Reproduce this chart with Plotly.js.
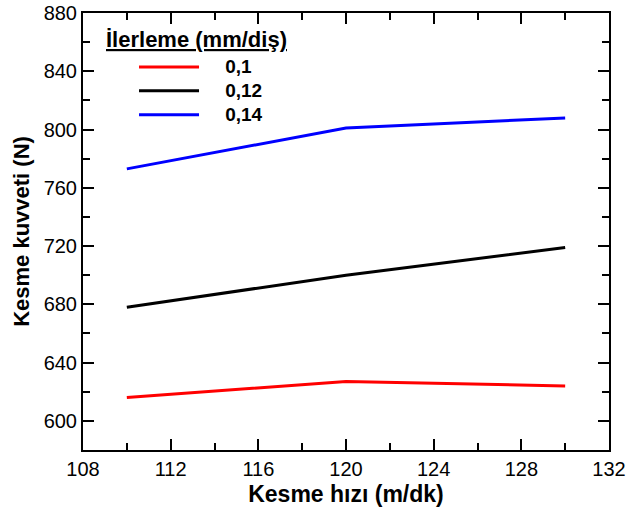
<!DOCTYPE html>
<html>
<head>
<meta charset="utf-8">
<script src="https://cdn.plot.ly/plotly-3.0.1.min.js"></script>
<style>html,body{margin:0;padding:0;background:#fff;}#chart{width:627px;height:516px;}</style>
</head>
<body>
<div id="chart"></div>
<script>
const speeds = [110, 120, 130];
const feedLabels = ["0,1", "0,12", "0,14"];
const force_01 = [616, 627, 624];
const force_012 = [678, 700, 719];
const force_014 = [773, 801, 808];
const legendTitle = "İlerleme (mm/diş)";
const colors = ["#ff0000", "#000000", "#0000ff"];
const series = [force_01, force_012, force_014];
const FONT = "Liberation Sans, Arial, sans-serif";

const traces = series.map((ys, i) => ({
  x: speeds, y: ys, type: "scatter", mode: "lines",
  name: "<span style='font-size:19px'>\u00a0\u00a0\u00a0\u00a0" + feedLabels[i] + "</span>",
  line: {color: colors[i], width: 3}
}));

const axisCommon = {
  showgrid: false, zeroline: false, showline: true, mirror: "allticks",
  linecolor: "#000", linewidth: 2, ticks: "inside", ticklen: 11, tickwidth: 2,
  tickcolor: "#000",
  tickfont: {family: FONT, size: 20, color: "#000"},
  minor: {ticks: "inside", ticklen: 7, tickwidth: 2, tickcolor: "#000"}
};

const layout = {
  width: 627, height: 516,
  margin: {l: 83, r: 18, t: 13, b: 66},
  paper_bgcolor: "#fff", plot_bgcolor: "#fff",
  showlegend: true,
  font: {family: FONT, color: "#000"},
  xaxis: Object.assign({}, axisCommon, {
    range: [108, 132], dtick: 4, tick0: 108,
    minor: Object.assign({}, axisCommon.minor, {dtick: 2}),
    title: {text: "<b>Kesme hızı (m/dk)</b>", font: {family: FONT, size: 23, color: "#000"}, standoff: 7}
  }),
  yaxis: Object.assign({}, axisCommon, {
    range: [580, 880], dtick: 40, tick0: 600,
    minor: Object.assign({}, axisCommon.minor, {dtick: 20}),
    title: {text: "<b>Kesme kuvveti (N)</b>", font: {family: FONT, size: 22, color: "#000"}, standoff: 8}
  }),
  legend: {
    x: 0.097, y: 0.915, xanchor: "left", yanchor: "top",
    bgcolor: "rgba(0,0,0,0)",
    font: {size: 16, color: "#000", family: FONT, weight: "bold"},
    itemwidth: 60,
    tracegroupgap: 0
  },
  annotations: [{
    xref: "paper", yref: "paper", x: 0.04, y: 0.94, xanchor: "left", yanchor: "middle",
    text: "<b><u>" + legendTitle + "</u></b>", showarrow: false,
    font: {family: FONT, size: 22, color: "#000"}
  }]
};

Plotly.newPlot("chart", traces, layout, {displayModeBar: false, staticPlot: true});
</script>
</body>
</html>
